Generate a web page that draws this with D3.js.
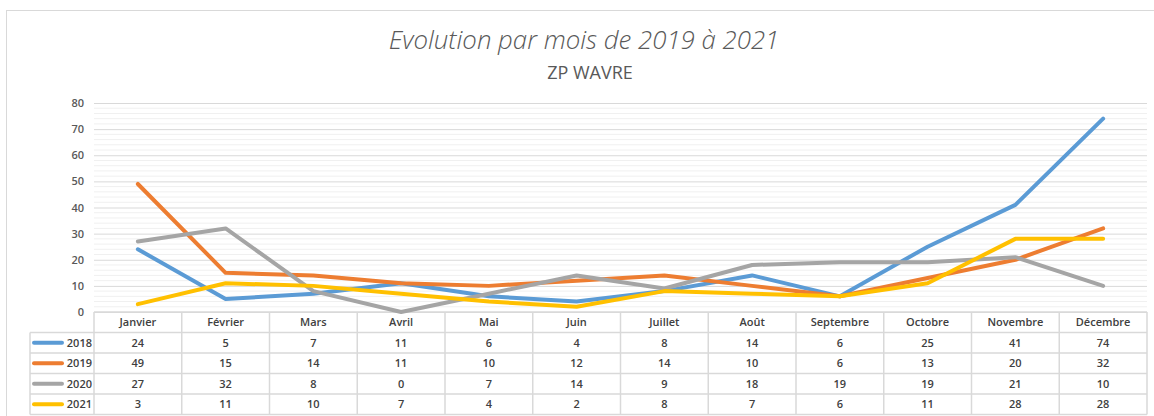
<!DOCTYPE html>
<html><head><meta charset="utf-8">
<script src="https://cdn.jsdelivr.net/npm/d3@7"></script>
<style>body{margin:0;background:#fff;}svg{display:block;}</style>
</head><body>
<svg id="chart" width="1154" height="416"></svg>
<script>
const months = ["Janvier","Février","Mars","Avril","Mai","Juin","Juillet","Août","Septembre","Octobre","Novembre","Décembre"];
const years = ["2018","2019","2020","2021"];
const v2018 = [24,5,7,11,6,4,8,14,6,25,41,74];
const v2019 = [49,15,14,11,10,12,14,10,6,13,20,32];
const v2020 = [27,32,8,0,7,14,9,18,19,19,21,10];
const v2021 = [3,11,10,7,4,2,8,7,6,11,28,28];
const yTicks = [0,10,20,30,40,50,60,70,80];
const colors = ["#5B9BD5","#ED7D31","#A5A5A5","#FFC000"];
const series = [v2018,v2019,v2020,v2021];

const svg = d3.select("#chart");
const pLeft = 94, pRight = 1147, pTop = 103, pBottom = 312;
const rowH = 20.5;
const font = "'Open Sans', sans-serif";

svg.append("rect").attr("x",6.5).attr("y",10.5).attr("width",1150).attr("height",420)
  .attr("fill","#fff").attr("stroke","#d9d9d9");

const x = d3.scaleBand().domain(months).range([pLeft,pRight]).padding(0);
const y = d3.scaleLinear().domain([0,80]).range([pBottom,pTop]);

// minor gridlines
const minor = d3.range(2,81,2).filter(v=>v%10!==0);
svg.append("g").selectAll("line").data(minor).join("line")
  .attr("x1",pLeft).attr("x2",pRight).attr("y1",d=>y(d)).attr("y2",d=>y(d))
  .attr("stroke","#f0f0f0").attr("stroke-width",1);

// major gridlines via axis
const yAxis = d3.axisLeft(y).tickValues(yTicks).tickSize(-(pRight-pLeft)).tickPadding(10);
const ga = svg.append("g").attr("transform",`translate(${pLeft},0)`).call(yAxis);
ga.select(".domain").remove();
ga.selectAll(".tick line").attr("stroke","#d9d9d9");
ga.selectAll(".tick text").attr("fill","#595959").style("font-family",font).style("font-size","11px").style("font-weight","600");

// table
const tbl = svg.append("g");
const tableBottom = pBottom + rowH*5;
const hl = [pBottom, pBottom+rowH, pBottom+rowH*2, pBottom+rowH*3, pBottom+rowH*4, tableBottom];
tbl.selectAll("line.h").data(hl).join("line").attr("class","h")
  .attr("x1",(d,i)=> i===0 ? pLeft : 30).attr("x2",pRight)
  .attr("y1",d=>d).attr("y2",d=>d).attr("stroke","#d9d9d9").attr("stroke-width",1.5);
const vx = months.map(m=>x(m)).concat([pRight]);
tbl.selectAll("line.v").data(vx).join("line").attr("class","v")
  .attr("x1",d=>d).attr("x2",d=>d).attr("y1",pBottom).attr("y2",tableBottom)
  .attr("stroke","#d9d9d9").attr("stroke-width",1.5);
tbl.append("line").attr("x1",30).attr("x2",30).attr("y1",pBottom+rowH).attr("y2",tableBottom)
  .attr("stroke","#d9d9d9").attr("stroke-width",1.5);

tbl.selectAll("text.m").data(months).join("text").attr("class","m")
  .attr("x",d=>x(d)+x.bandwidth()/2).attr("y",pBottom+rowH/2+4)
  .attr("text-anchor","middle").attr("fill","#404040")
  .style("font-family",font).style("font-size","11px").style("font-weight","600").text(d=>d);

series.forEach((s,si)=>{
  const ry = pBottom + rowH*(si+1);
  tbl.append("line").attr("x1",34).attr("x2",62).attr("y1",ry+rowH/2).attr("y2",ry+rowH/2)
    .attr("stroke",colors[si]).attr("stroke-width",4).attr("stroke-linecap","round");
  tbl.append("text").attr("x",92).attr("y",ry+rowH/2+4).attr("text-anchor","end")
    .attr("fill","#404040").style("font-family",font).style("font-size","11px").style("font-weight","600").text(years[si]);
  tbl.selectAll(null).data(s).join("text")
    .attr("x",(d,i)=>x(months[i])+x.bandwidth()/2).attr("y",ry+rowH/2+4)
    .attr("text-anchor","middle").attr("fill","#404040")
    .style("font-family",font).style("font-size","11px").style("font-weight","600").text(d=>d);
});

const line = d3.line().x((d,i)=>x(months[i])+x.bandwidth()/2).y(d=>y(d));
svg.append("g").selectAll("path").data(series).join("path")
  .attr("d",line).attr("fill","none").attr("stroke",(d,i)=>colors[i])
  .attr("stroke-width",4).attr("stroke-linecap","round").attr("stroke-linejoin","round");

svg.append("text").attr("x",584).attr("y",49).attr("text-anchor","middle")
  .attr("fill","#595959").style("font-family",font).style("font-size","25.8px")
  .style("font-style","italic").style("font-weight","300").text("Evolution par mois de 2019 à 2021");
svg.append("text").attr("x",590).attr("y",79).attr("text-anchor","middle")
  .attr("fill","#595959").style("font-family",font).style("font-size","18px")
  .text("ZP WAVRE");
</script>
</body></html>
